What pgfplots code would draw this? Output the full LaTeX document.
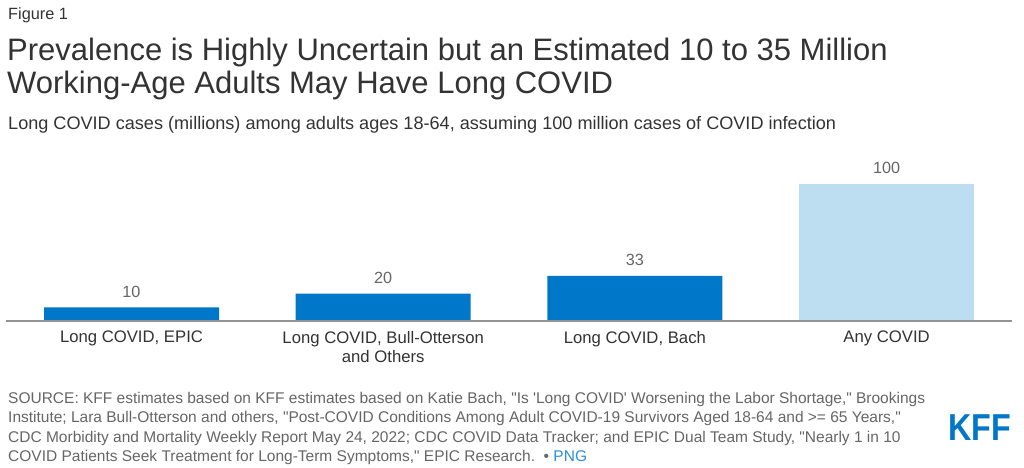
\documentclass[border=0pt]{standalone}
\usepackage{pgfplots}
\pgfplotsset{compat=1.18}
\usepackage{fontspec}
\setmainfont{Liberation Sans}[Ligatures=TeXOff]
\definecolor{kffblue}{HTML}{0077C8}
\definecolor{kfflight}{HTML}{BDDDF1}
\definecolor{titlegray}{HTML}{333333}
\definecolor{srcgray}{HTML}{666666}
\definecolor{linkblue}{HTML}{2D8FD5}
\begin{document}
\begin{tikzpicture}
\useasboundingbox (0bp,0bp) rectangle (1024bp,468bp);
\fill[white] (0bp,0bp) rectangle (1024bp,468bp);
% header
\node[anchor=base west,inner sep=0,text=titlegray,font=\fontsize{16.3bp}{19bp}\selectfont] at (8bp,448bp) {Figure 1};
\node[anchor=base west,inner sep=0,text=titlegray,font=\fontsize{31bp}{36bp}\selectfont] at (7bp,407bp) {Prevalence is Highly Uncertain but an Estimated 10 to 35 Million};
\node[anchor=base west,inner sep=0,text=titlegray,font=\fontsize{31bp}{36bp}\selectfont] at (7bp,374bp) {Working-Age Adults May Have Long COVID};
\node[anchor=base west,inner sep=0,text=titlegray,font=\fontsize{18.1bp}{21bp}\selectfont] at (8bp,338bp) {Long COVID cases (millions) among adults ages 18-64, assuming 100 million cases of COVID infection};
% chart
\begin{axis}[
  at={(131.5bp,147bp)}, anchor=origin,
  scale only axis, width=1006.8bp, height=137bp,
  xmin=-0.5, xmax=3.5, ymin=0, ymax=100,
  axis x line*=bottom, axis y line=none,
  x axis line style={draw=gray!85, line width=1.3bp, -},
  xtick={0,1,2,3}, major tick length=0pt,
  xticklabels={{Long COVID, EPIC},{Long COVID, Bull-Otterson\\and Others},{Long COVID, Bach},{Any COVID}},
  xticklabel style={font=\fontsize{16.7bp}{19.5bp}\selectfont, text=titlegray, align=center, anchor=north, yshift=-6.5bp},
  ytick=\empty,
  clip=false,
  /pgf/number format/assume math mode=true,
  nodes near coords,
  every node near coord/.append style={font=\fontsize{16.2bp}{19bp}\selectfont, text=srcgray, anchor=base, yshift=10bp, inner sep=0pt},
  axis on top,
]
\addplot[ybar, bar width=175bp, bar shift=0pt, fill=kffblue, draw=none] coordinates {(0,10) (1,20) (2,33)};
\addplot[ybar, bar width=175bp, bar shift=0pt, fill=kfflight, draw=none] coordinates {(3,100)};
\end{axis}
% source
\begin{scope}[every node/.style={anchor=base west,inner sep=0,text=srcgray,font=\fontsize{15.5bp}{19bp}\selectfont}]
\node at (8bp,64bp) {SOURCE: KFF estimates based on KFF estimates based on Katie Bach, "Is 'Long COVID' Worsening the Labor Shortage," Brookings};
\node at (8bp,45bp) {Institute; Lara Bull-Otterson and others, "Post-COVID Conditions Among Adult COVID-19 Survivors Aged 18-64 and >= 65 Years,"};
\node at (8bp,26bp) {CDC Morbidity and Mortality Weekly Report May 24, 2022; CDC COVID Data Tracker; and EPIC Dual Team Study, "Nearly 1 in 10};
\node at (8bp,7bp) {COVID Patients Seek Treatment for Long-Term Symptoms," EPIC Research.\ \ \textbullet\ \textcolor{linkblue}{PNG}};
\end{scope}
\node[anchor=base west,inner sep=0,text=kffblue] at (948bp,28bp) {\scalebox{0.86}[1]{\fontsize{37.5bp}{40bp}\selectfont\bfseries KFF}};
\end{tikzpicture}
\end{document}
